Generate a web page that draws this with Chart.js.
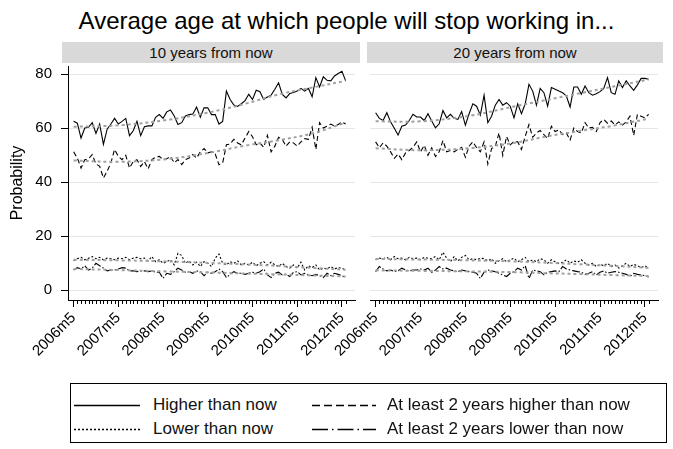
<!DOCTYPE html>
<html>
<head>
<meta charset="utf-8">
<script src="https://cdn.jsdelivr.net/npm/chart.js@4.4.1/dist/chart.umd.min.js"></script>
<style>
  body { margin: 0; background: #fff; font-family: "Liberation Sans", Arial, sans-serif; }
  #wrap { position: relative; width: 673px; height: 449px; overflow: hidden; }
  #title { position: absolute; left: 10px; width: 673px; top: 7px; text-align: center; font-size: 24px; color: #000; }
  .strip { position: absolute; top: 42px; height: 21px; background: #d9d9d9; font-size: 15px; line-height: 21px; text-align: center; color: #111; }
  .cv { position: absolute; top: 48px; }
  #legend { position: absolute; left: 70px; top: 383px; width: 597px; height: 60px; border: 1px solid #000; box-sizing: border-box; }
  .item { position: absolute; font-size: 17px; line-height: 18px; color: #111; }
  .item svg { position: absolute; left: 0; top: 8px; }
  .item span { position: absolute; white-space: nowrap; }
</style>
</head>
<body>
<div id="wrap">
  <div id="title">Average age at which people will stop working in...</div>
  <div class="strip" style="left:62px;width:298px">10 years from now</div>
  <div class="strip" style="left:367px;width:296px">20 years from now</div>
  <div class="cv" style="left:0"><canvas id="c10" width="362" height="334"></canvas></div>
  <div class="cv" style="left:322px"><canvas id="c20" width="351" height="334"></canvas></div>
  <div id="legend">
    <div class="item" style="left:3px;top:12px">
      <svg width="68" height="3"><line x1="0" y1="1.5" x2="66" y2="1.5" stroke="#000" stroke-width="1.3"/></svg>
      <span style="left:79px">Higher than now</span>
    </div>
    <div class="item" style="left:241px;top:12px">
      <svg width="68" height="3"><line x1="0" y1="1.5" x2="64" y2="1.5" stroke="#000" stroke-width="1.3" stroke-dasharray="8,4"/></svg>
      <span style="left:75px">At least 2 years higher than now</span>
    </div>
    <div class="item" style="left:3px;top:36px">
      <svg width="68" height="3"><line x1="0" y1="1.5" x2="66" y2="1.5" stroke="#000" stroke-width="1.3" stroke-dasharray="2,2"/></svg>
      <span style="left:79px">Lower than now</span>
    </div>
    <div class="item" style="left:241px;top:36px">
      <svg width="68" height="3"><line x1="0" y1="1.5" x2="64" y2="1.5" stroke="#000" stroke-width="1.3" stroke-dasharray="16,4,1.5,4"/></svg>
      <span style="left:75px">At least 2 years lower than now</span>
    </div>
  </div>
</div>
<script>
// months 2006m5 .. 2012m6, x = month index
const tickLabels = ['2006m5', '2007m5', '2008m5', '2009m5', '2010m5', '2011m5', '2012m5'];
const tickMonths = [0, 12, 24, 36, 48, 60, 72];
const nMonths = 74;

// 10 years from now
const higher10 = [62.5, 61.8, 56.3, 60, 60.3, 62, 58, 61.5, 54, 59.6, 61.5, 63.6, 61.5, 62.5, 63.6, 57.2, 59, 62.5, 57.2, 60.5,
  60.8, 60.8, 64, 65, 63.6, 66, 66.7, 64.5, 61.3, 62, 64.5, 65, 65.2, 67.8, 64, 67.5, 67.5, 65,
  65, 61.5, 62.5, 73.7, 70.6, 68.5, 68, 69, 70.2, 72.5, 70.6, 74, 73.5, 70.6, 71.5, 72.2, 74.4, 76.8,
  72.5, 71.2, 72.8, 73.2, 73.7, 74.7, 73.7, 74.7, 71.6, 78.7, 75.2, 79, 77.7, 77.5, 79.3, 80.2, 81, 77.5];
const higher2y10 = [51.2, 48.9, 45.2, 48.3, 48.6, 50.2, 46.7, 45.8, 41.5, 44, 47.1, 52.1, 49.5, 48.3, 49.9, 45.2, 47.6, 48.3, 45.8, 47.6,
  44.9, 48.3, 49.2, 49.5, 48.3, 48.6, 49.5, 47.1, 48.3, 46.5, 48.3, 48.9, 50.2, 48.9, 51.2, 52.4, 50.8, 51.2,
  50.4, 46.4, 47.1, 53.8, 54.1, 55.8, 54.5, 53.8, 56.3, 58.7, 56.8, 53.8, 54.5, 52.9, 57.3, 51.2, 53.3, 56.6,
  55.8, 53.3, 54.9, 54.5, 53.3, 54.9, 56.1, 55.8, 60.3, 52.1, 62, 60, 60.7, 61.5, 60.7, 61.3, 62.3, 61.5];
const lower10 = [10.8, 11.6, 12.1, 11.2, 11.8, 12.4, 11.6, 12.1, 11.2, 11.8, 11.6, 11.2, 11.8, 11.6, 12.1, 11.2, 11.8, 12.1, 11.6, 11.8,
  10.8, 12.4, 10.5, 11.2, 9.9, 10.5, 11.2, 9.3, 13.6, 12.8, 9.9, 10.8, 9.3, 10.3, 8.7, 10.5, 9.9, 8.7, 11.8, 13.3,
  9.9, 9.3, 10.5, 9.9, 10.8, 9.3, 9.9, 9.3, 10.3, 9.0, 9.9, 10.5, 9.3, 10.3, 9.3, 8.7, 9.9, 8.7, 8.1, 9.3,
  8.1, 10.3, 7.4, 9.0, 8.3, 9.3, 7.4, 8.1, 7.8, 8.7, 7.8, 8.3, 8.1, 7.4];
const lower2y10 = [7.4, 8.3, 7.8, 9.0, 7.4, 8.1, 9.9, 9.0, 8.1, 7.1, 7.4, 7.4, 7.8, 8.3, 8.1, 7.1, 7.1, 6.8, 7.1, 7.1,
  6.8, 7.1, 6.6, 6.6, 4.3, 6.2, 5.8, 6.8, 8.1, 7.4, 6.6, 6.8, 6.2, 7.1, 6.8, 5.3, 6.6, 6.2, 6.8, 7.8,
  6.8, 4.6, 5.8, 6.8, 6.2, 6.2, 5.8, 6.2, 6.6, 6.2, 6.8, 7.8, 5.6, 4.6, 6.2, 6.6, 5.6, 5.8, 5.0, 6.6,
  6.8, 5.6, 6.2, 5.6, 5.3, 5.8, 5.3, 4.6, 6.2, 5.3, 6.2, 5.8, 5.3, 4.6];

// 20 years from now
const higher20 = [65.7, 63.6, 62.8, 65.7, 62.3, 59.9, 57.4, 60.7, 61.1, 62.8, 65.1, 64.1, 64.1, 62.8, 65.3, 62.6, 60.1, 61.6, 66.5, 63.8,
  65.1, 63.6, 63.2, 66.1, 61.1, 65.3, 69, 68.1, 64.8, 72.2, 62, 64.4, 68.5, 70.6, 68.5, 69.4, 68.1, 63.8,
  69, 65.3, 69, 76.2, 73.7, 68.5, 74.7, 73.1, 68.1, 75, 74.4, 73.7, 73.1, 71.9, 67.8, 75.2, 75.2, 72.5,
  75.6, 73.1, 72.2, 72.7, 73.5, 74.7, 78.7, 73.1, 72.5, 77.5, 75, 77.5, 75.6, 74, 76, 78.4, 78.4, 78.1];
const higher2y20 = [54.9, 52.7, 54.5, 53.3, 51.2, 48.8, 50.4, 48.3, 50.8, 51.7, 52.9, 54.9, 51.2, 53.6, 49.9, 52.7, 49.5, 51.2, 55.4, 51.2,
  51.7, 51.2, 52.1, 52.9, 49.2, 53.3, 54.9, 52.7, 51.2, 54.9, 46.7, 52.4, 53.3, 58.2, 49.9, 56.9, 53.8, 55.1,
  54.9, 52.1, 56.9, 61.3, 56.6, 58.2, 59.1, 57.6, 56.1, 60.7, 58.7, 59.4, 57.6, 58.2, 55.6, 60, 58.7, 58.2,
  62, 60, 60.3, 58.7, 62, 63.2, 61.8, 62.6, 61.1, 62.3, 61.1, 62.3, 64.4, 57.3, 65.1, 64.4, 63.8, 65.1];
const lower20 = [11.2, 11.8, 11.6, 12.1, 11.2, 12.4, 11.6, 11.8, 11.2, 12.1, 11.6, 11.8, 11.2, 12.1, 11.8, 11.6, 12.4, 11.2, 14.0, 11.8,
  10.5, 12.4, 10.8, 12.1, 12.8, 11.2, 11.6, 11.2, 11.8, 11.6, 10.8, 11.6, 9.9, 10.8, 11.6, 10.5, 11.2, 11.8, 10.5, 11.2,
  12.1, 10.5, 11.2, 10.5, 11.6, 11.2, 9.9, 11.2, 10.5, 9.9, 10.3, 11.2, 9.9, 10.8, 10.3, 11.2, 9.9, 9.3, 9.9, 8.7,
  9.5, 9.0, 9.9, 8.7, 9.3, 8.1, 9.0, 9.9, 8.7, 9.5, 9.0, 8.3, 9.0, 8.1];
const lower2y20 = [6.8, 8.7, 7.8, 7.1, 7.4, 6.8, 7.1, 8.1, 7.4, 7.1, 7.4, 7.4, 7.8, 7.4, 8.1, 6.6, 7.4, 8.7, 7.8, 8.1,
  7.4, 7.1, 6.8, 7.4, 7.1, 6.8, 6.6, 6.2, 4.3, 6.6, 7.4, 7.1, 6.8, 6.2, 5.6, 5.0, 6.2, 6.8, 8.1, 7.4,
  9.0, 4.3, 7.4, 7.1, 6.8, 5.6, 6.6, 6.8, 7.1, 6.8, 8.7, 7.8, 7.4, 7.1, 6.8, 6.6, 5.8, 6.2, 6.8, 5.6,
  6.6, 7.1, 6.2, 6.6, 6.8, 6.6, 6.2, 5.8, 5.0, 6.2, 5.8, 5.6, 5.3, 4.8];

// fitted trend curves (gray), read at a few months
const trendMonths = [0, 12, 25, 37, 46, 55, 64, 73];
const trendHigher10 = [60.5, 61, 63, 66, 69, 72.5, 75, 77.5];
const trendHigher2y10 = [48, 47.5, 48.5, 51, 53.5, 55.5, 58, 62];
const trendLower10 = [11.2, 11, 10.6, 10, 9.5, 8.9, 8.2, 7.5];
const trendLower2y10 = [7.8, 7.4, 6.9, 6.5, 6.1, 5.8, 5.4, 5];
const trendHigher20 = [62.5, 62.5, 64.5, 68, 70.5, 73, 75.5, 78];
const trendHigher2y20 = [52.5, 51.8, 52.5, 54.5, 57, 59, 61, 63.5];
const trendLower20 = [11.5, 11.3, 11, 10.6, 10.1, 9.5, 8.9, 8.2];
const trendLower2y20 = [7.3, 7.1, 6.9, 6.6, 6.2, 5.9, 5.5, 5.2];

Chart.defaults.font.family = "'Liberation Sans', Arial, sans-serif";
Chart.defaults.color = '#000';

const toXY = (arr) => arr.map((v, i) => ({ x: i, y: v }));
const toTrend = (arr) => arr.map((v, i) => ({ x: trendMonths[i], y: v }));

function series(arr, dash) {
  return { data: toXY(arr), borderColor: '#000', borderWidth: 1.1, borderDash: dash, pointRadius: 0, tension: 0, order: 1 };
}
function trend(arr) {
  return { data: toTrend(arr), borderColor: '#a0a0a0', borderWidth: 2, borderDash: [3, 3], pointRadius: 0, tension: 0.35, order: 0 };
}

const minorTicks = {
  id: 'minorTicks',
  afterDraw(chart) {
    const xs = chart.scales.x, ctx = chart.ctx;
    ctx.save();
    ctx.strokeStyle = '#000';
    ctx.lineWidth = 1;
    ctx.beginPath();
    for (let i = 0; i < nMonths; i++) {
      if (i % 12 === 0) continue;
      const px = Math.round(xs.getPixelForValue(i)) + 0.5;
      ctx.moveTo(px, xs.top);
      ctx.lineTo(px, xs.top + 4);
    }
    ctx.stroke();
    ctx.restore();
  }
};

function makeChart(id, data, showY, padding) {
  new Chart(document.getElementById(id), {
    type: 'line',
    data: {
      datasets: [
        trend(data.tH), trend(data.tH2), trend(data.tL), trend(data.tL2),
        series(data.h, []), series(data.h2, [5, 3]), series(data.l, [2, 2]), series(data.l2, [8, 2, 1.5, 2])
      ]
    },
    options: {
      responsive: false,
      animation: false,
      layout: { padding: padding },
      plugins: { legend: { display: false }, tooltip: { enabled: false } },
      scales: {
        x: {
          type: 'linear',
          min: -1.5,
          max: 75.5,
          afterBuildTicks: (s) => { s.ticks = tickMonths.map(v => ({ value: v })); },
          afterFit: (s) => { s.height = 82; },
          ticks: {
            autoSkip: false,
            minRotation: 45,
            maxRotation: 45,
            padding: 2,
            font: { size: 15 },
            callback: (v) => tickLabels[tickMonths.indexOf(v)]
          },
          grid: { drawOnChartArea: false, drawTicks: true, tickLength: 7, tickColor: '#000' },
          border: { color: '#000', width: 1 }
        },
        y: {
          min: -3.7,
          max: 83,
          afterBuildTicks: (s) => { s.ticks = [0, 20, 40, 60, 80].map(v => ({ value: v })); },
          afterFit: (s) => { s.width = showY ? 68 : 0; },
          ticks: { padding: 9, font: { size: 15 }, color: showY ? '#000' : 'rgba(0,0,0,0)' },
          title: { display: showY, text: 'Probability', font: { size: 16 }, padding: { top: 8, bottom: 0 } },
          grid: { color: '#e6e6e6', lineWidth: 1, drawTicks: showY, tickLength: 7, tickColor: '#000' },
          border: { display: showY, color: '#000', width: 1 }
        }
      }
    },
    plugins: [minorTicks]
  });
}

makeChart('c10', {
  h: higher10, h2: higher2y10, l: lower10, l2: lower2y10,
  tH: trendHigher10, tH2: trendHigher2y10, tL: trendLower10, tL2: trendLower2y10
}, true, { top: 3, right: 7, left: 0, bottom: 0 });

makeChart('c20', {
  h: higher20, h2: higher2y20, l: lower20, l2: lower2y20,
  tH: trendHigher20, tH2: trendHigher2y20, tL: trendLower20, tL2: trendLower2y20
}, false, { top: 3, right: 15, left: 48, bottom: 0 });
</script>
</body>
</html>
